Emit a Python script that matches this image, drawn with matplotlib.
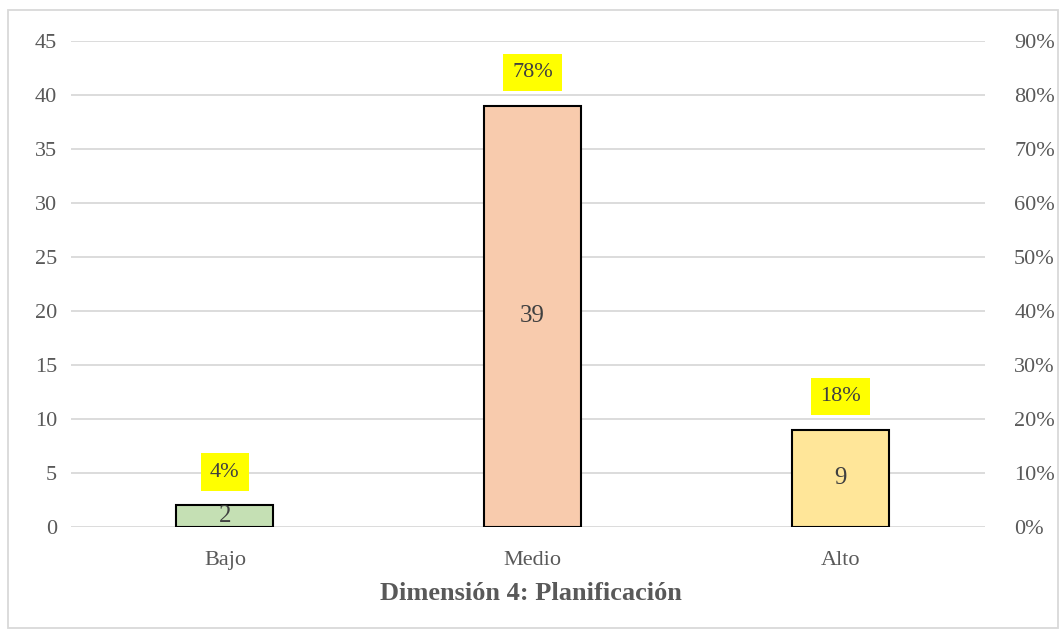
import matplotlib.pyplot as plt
from matplotlib.patches import Rectangle

categorias = ['Bajo', 'Medio', 'Alto']
frecuencia = [2, 39, 9]
porcentaje = [0.04, 0.78, 0.18]
colores = ['#C5E0B4', '#F8CBAD', '#FFE699']

plt.rcParams['font.family'] = ['Liberation Serif', 'DejaVu Serif']
gris = '#595959'

fig = plt.figure(figsize=(10.62, 6.32), dpi=100)
ax = fig.add_axes([0.0669, 0.1661, 0.8606, 0.769])

x = range(len(categorias))
barras = ax.bar(x, frecuencia, width=0.315, color=colores, edgecolor='black',
                linewidth=1.5, zorder=3)
for b, v in zip(barras, frecuencia):
    ax.text(b.get_x() + b.get_width() / 2, v / 2, str(v), ha='center', va='center',
            fontsize=18, color='#404040', zorder=4)

ax.set_ylim(0, 45)
ax.set_xlim(-0.5, 2.47)
ax.set_yticks(range(0, 46, 5))
ax.set_xticks(list(x))
ax.set_xticklabels(categorias)
ax.grid(axis='y', color='#D9D9D9', linewidth=1.3, zorder=0)
ax.tick_params(length=0, labelsize=16, colors=gris)
ax.tick_params(axis='x', pad=17)
ax.tick_params(axis='y', pad=10)
for s in ax.spines.values():
    s.set_visible(False)

ax2 = ax.twinx()
ax2.set_ylim(0, 0.9)
ax2.set_yticks([i / 10 for i in range(10)])
ax2.set_yticklabels([f'{i * 10}%' for i in range(10)])
ax2.tick_params(length=0, labelsize=16, colors=gris, pad=21)
for s in ax2.spines.values():
    s.set_visible(False)
for i, p in enumerate(porcentaje):
    ax2.annotate(f'{p:.0%}', (i, p), xytext=(0, 24), textcoords='offset points',
                 ha='center', va='center', fontsize=16, color='#404040',
                 bbox=dict(boxstyle='square,pad=0.42', fc='#FFFF00', ec='none'))

fig.text(0.5, 0.061, 'Dimensión 4: Planificación', ha='center', va='center',
         fontsize=19, fontweight='bold', color=gris)

fig.patches.append(Rectangle((8 / 1062, 4 / 632), 1050 / 1062, 618 / 632,
                             transform=fig.transFigure, fill=False,
                             edgecolor='#D9D9D9', linewidth=1.3))

fig.savefig('out.png', dpi=100)
